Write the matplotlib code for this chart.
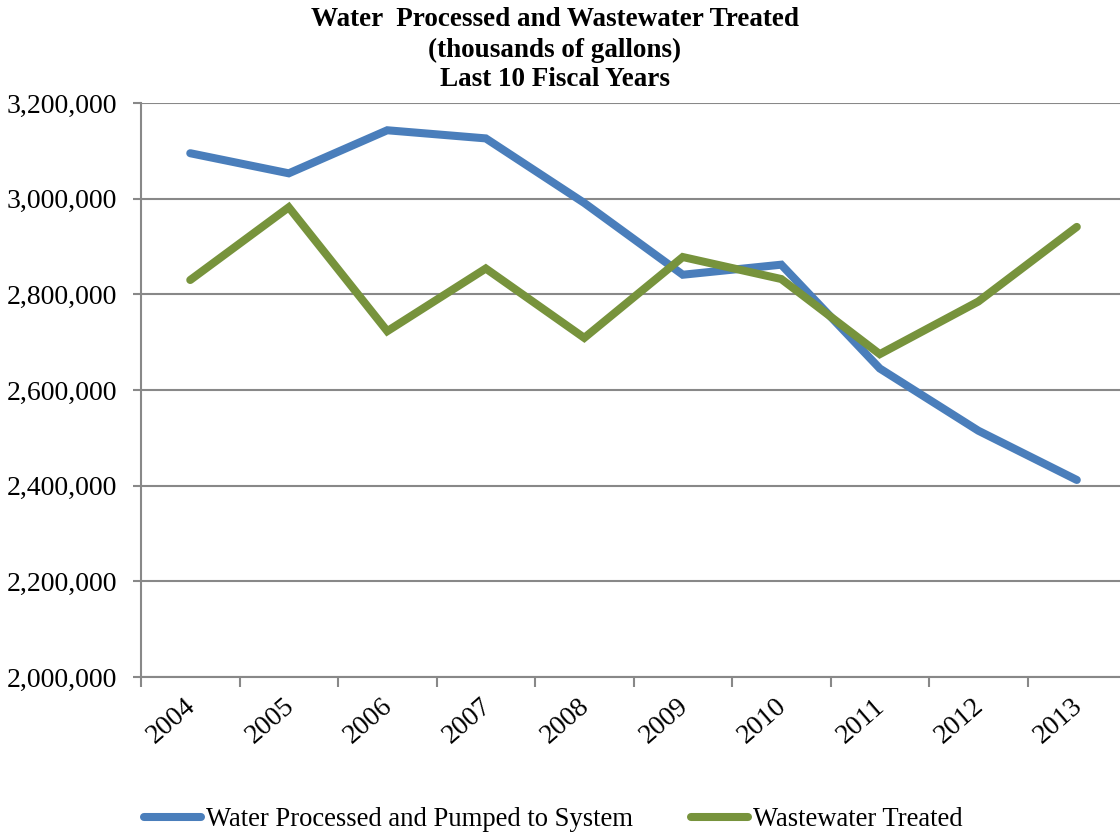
import matplotlib
matplotlib.use('Agg')
import matplotlib.pyplot as plt
import matplotlib.transforms as mtransforms
from matplotlib.ticker import FuncFormatter, MultipleLocator

plt.rcParams['font.family'] = ['Liberation Serif', 'DejaVu Serif']

# Data (thousands of gallons)
years = ['2004', '2005', '2006', '2007', '2008', '2009', '2010', '2011', '2012', '2013']
water_pumped = [3095000, 3053000, 3143000, 3126000, 2991000, 2841000, 2862000, 2645000, 2515000, 2412000]
wastewater = [2830000, 2982000, 2723000, 2854000, 2709000, 2878000, 2832000, 2675000, 2785000, 2941000]

title_lines = ['Water  Processed and Wastewater Treated',
               '(thousands of gallons)',
               'Last 10 Fiscal Years']

blue = '#4A7EBB'
green = '#77933C'
grid_col = '#888888'

fig = plt.figure(figsize=(11.2, 8.34), dpi=100)
ax = fig.add_axes([0.1259, 0.1882, 0.8795, 0.6883])

x = list(range(len(years)))
ax.plot(x, water_pumped, color=blue, lw=5.8, solid_capstyle='round',
        solid_joinstyle='miter', label='Water Processed and Pumped to System')
ax.plot(x, wastewater, color=green, lw=5.8, solid_capstyle='round',
        solid_joinstyle='miter', label='Wastewater Treated')

ax.set_xlim(-0.5, len(years) - 0.5)
ax.set_ylim(2000000, 3200000)
ax.yaxis.set_major_locator(MultipleLocator(200000))
ax.yaxis.set_major_formatter(FuncFormatter(lambda v, p: f'{int(v):,}'))
ax.grid(axis='y', color=grid_col, lw=1.5)
ax.set_axisbelow(True)

# category boundaries get the tick marks, labels sit in the middle
ax.set_xticks([i - 0.5 for i in range(len(years) + 1)])
ax.set_xticklabels([])
ax.set_xticks(x, minor=True)
ax.set_xticklabels(years, minor=True, rotation=41, ha='right',
                   rotation_mode='anchor', fontsize=20)
ax.tick_params(axis='x', which='minor', length=0, pad=12)
ax.tick_params(axis='x', which='major', length=7, width=1.5, color=grid_col)
ax.tick_params(axis='y', length=6, width=1.5, color=grid_col, labelsize=20, pad=11)
shift = mtransforms.ScaledTranslation(-6 / 100, 0, fig.dpi_scale_trans)
for lbl in ax.get_xticklabels(minor=True):
    lbl.set_transform(lbl.get_transform() + shift)

for s in ['top', 'right']:
    ax.spines[s].set_visible(False)
for s in ['left', 'bottom']:
    ax.spines[s].set_color(grid_col)
    ax.spines[s].set_linewidth(1.5)

for i, line in enumerate(title_lines):
    fig.text(0.4955, 1 - (20 + 30 * i) / 834, line, ha='center', va='center',
             fontsize=19.5, fontweight='bold')

fig.legend(loc='center', bbox_to_anchor=(0.494, 0.017), ncol=2, frameon=False,
           fontsize=19.2, handlelength=2.15, handletextpad=0.2, columnspacing=2.15)

fig.savefig('out.png', dpi=100)
